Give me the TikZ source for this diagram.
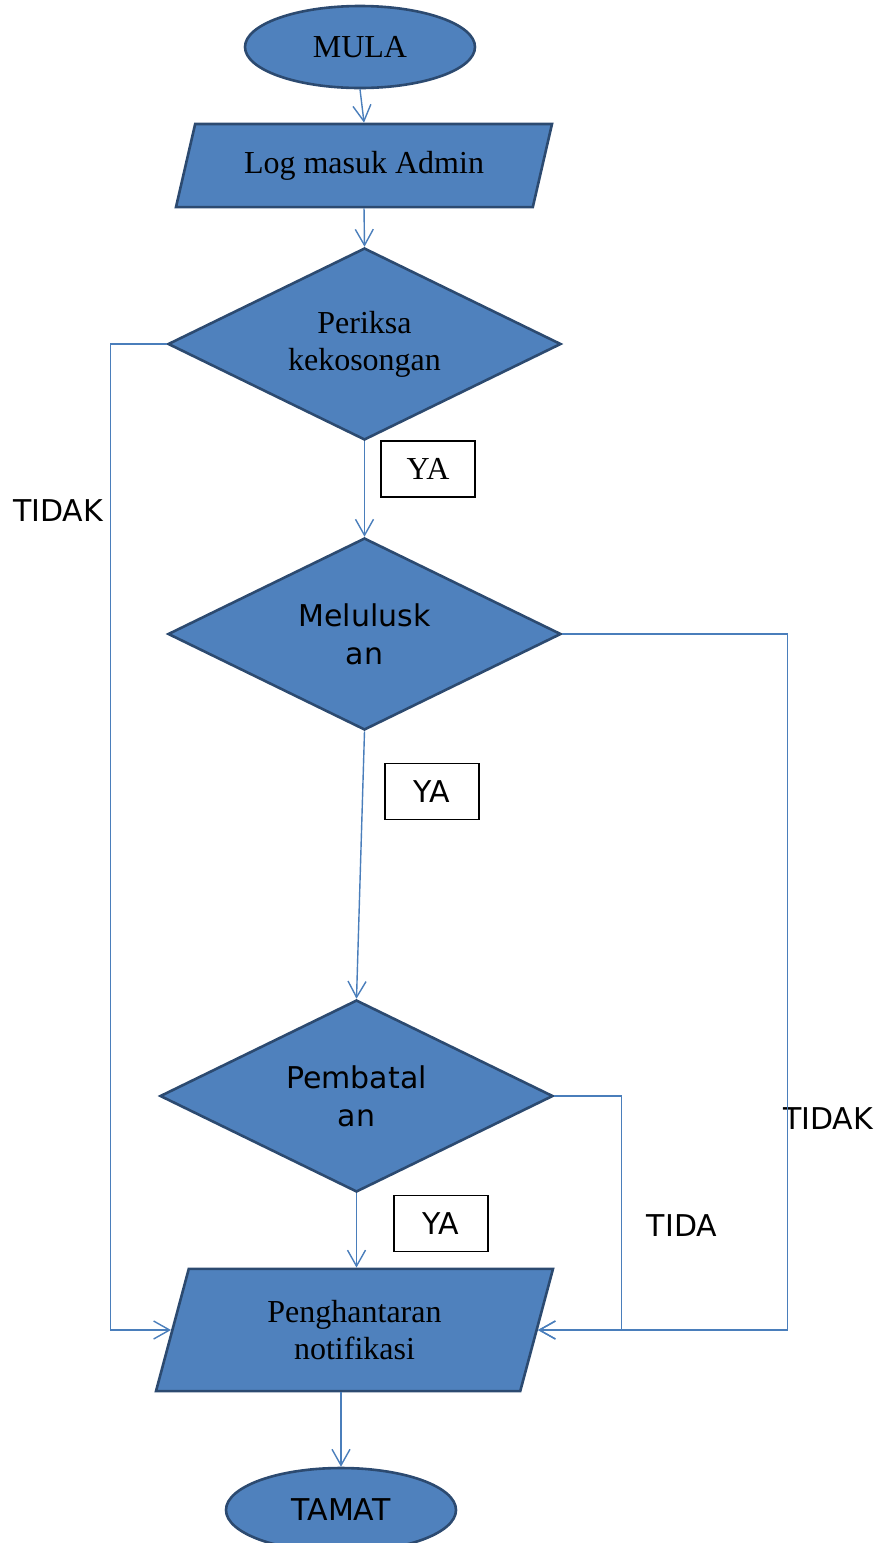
\documentclass[tikz,border=0pt]{standalone}
\usepackage{fontspec}
\setmainfont{Liberation Serif}
\newfontfamily\verd{DejaVu Sans}
\usetikzlibrary{shapes.geometric,arrows.meta}
\definecolor{boxfill}{RGB}{79,129,189}
\definecolor{boxline}{RGB}{44,74,112}
\definecolor{linkline}{RGB}{74,126,187}

\begin{document}
\begin{tikzpicture}[x=0.5pt,y=-0.5pt,
    blok/.style={fill=boxfill,draw=boxline,line width=1.3pt,inner sep=0pt,align=center},
    sf/.style={font=\verd\fontsize{15}{19}\selectfont},
    rm/.style={font=\fontsize{16}{18.5}\selectfont},
    ujung/.style={blok,ellipse,minimum width=115pt,minimum height=41pt},
    ioblok/.style={blok,trapezium,trapezium stretches body},
    soal/.style={blok,diamond,aspect=2.05,minimum width=196.5pt,minimum height=96pt},
    ya/.style={draw=black,line width=0.6pt,minimum width=47pt,minimum height=28pt,inner sep=0pt},
    panah/.style={draw=linkline,line width=0.7pt,-{Straight Barb[length=8pt,width=9pt]}}]
  \useasboundingbox (0,0) rectangle (877,1543);

  \node[ujung,rm] (mula) at (360,47) {MULA};
  \node[ioblok,rm,trapezium left angle=77,trapezium right angle=103,inner ysep=13.5pt,minimum width=188pt,minimum height=41.5pt] (log) at (364,165.5) {Log masuk Admin};
  \node[soal,rm] (periksa) at (364.5,344) {Periksa\\kekosongan};
  \node[soal,sf] (lulus) at (364.5,634) {Melulusk\\an};
  \node[soal,sf] (batal) at (356.5,1096) {Pembatal\\an};
  \node[ioblok,rm,trapezium left angle=75,trapezium right angle=105,inner ysep=15.7pt,minimum width=198.5pt,minimum height=61pt] (hantar) at (354.5,1330) {Penghantaran\\notifikasi};
  \node[ujung,sf,minimum height=42pt] (tamat) at (341,1510) {TAMAT};

  \node[ya,rm] (ya1) at (428,469) {YA};
  \node[ya,sf] (ya2) at (432,791.5) {YA};
  \node[ya,sf] (ya3) at (441,1223.5) {YA};
  \node[sf] (tidak1) at (58,511) {TIDAK};
  \node[sf] (tidak2) at (828,1119) {TIDAK};
  \node[sf] (tidak3) at (682,1226) {TIDA};

  \draw[panah] (mula.south) -- (log.north);
  \draw[panah] (log.south) -- (periksa.north);
  \draw[panah] (periksa.south) -- (lulus.north);
  \draw[panah] (lulus.south) -- (batal.north);
  \draw[panah] (batal.south) -- (batal.south |- hantar.north);
  \draw[panah] (tamat.north |- hantar.south) -- (tamat.north);
  \draw[panah] (periksa.west) -- ++(-56,0) |- (hantar);
  \draw[panah] (lulus.east) -- ++(225,0) |- (hantar);
  \draw[panah] (batal.east) -- ++(67,0) |- (hantar);
\end{tikzpicture}
\end{document}
